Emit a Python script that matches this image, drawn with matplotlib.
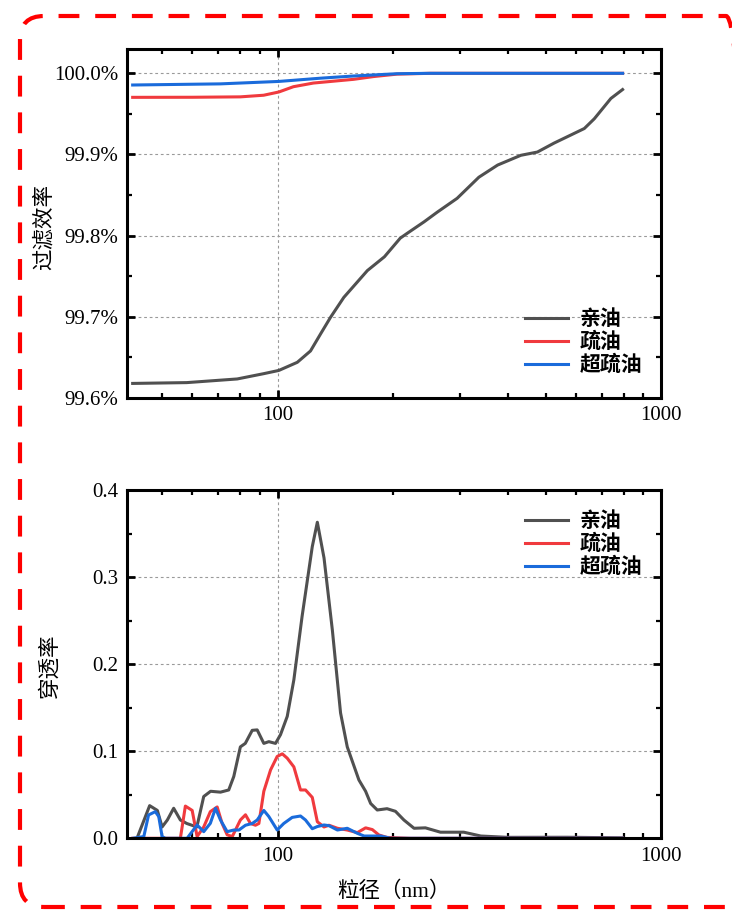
import matplotlib
matplotlib.use("Agg")
import matplotlib.pyplot as plt
from matplotlib.patches import FancyBboxPatch
from matplotlib.transforms import IdentityTransform
from matplotlib.ticker import FixedLocator, LogLocator, MultipleLocator, FuncFormatter, NullFormatter

plt.rcParams['font.family'] = ['Liberation Serif', 'Noto Sans CJK SC']

# === data: filtration efficiency (%) ===
eff_x_oleo = [41.9, 58, 78.5, 92, 100.8, 112.6, 121.9, 129.5, 137.5, 148.9, 171.5, 190, 209, 218,
              241, 261, 294, 335, 375, 431, 476, 526, 582, 631, 670, 740, 794]
eff_y_oleo = [99.618, 99.619, 99.6235, 99.630, 99.634, 99.644, 99.658, 99.679, 99.6995, 99.724,
              99.757, 99.774, 99.797, 99.803, 99.817, 99.829, 99.846, 99.872, 99.887, 99.899,
              99.903, 99.914, 99.924, 99.932, 99.944, 99.969, 99.980]
eff_x_phob = [41.9, 60, 80, 92, 100.8, 110, 124, 158, 178, 205, 250, 400, 794]
eff_y_phob = [99.9704, 99.9705, 99.971, 99.973, 99.977, 99.9835, 99.988, 99.9926, 99.996,
              99.999, 100.0, 100.0, 100.0]
eff_x_super = [41.9, 71, 100.8, 129.5, 158, 205, 250, 400, 794]
eff_y_super = [99.9856, 99.987, 99.990, 99.994, 99.9967, 99.9995, 100.0, 100.0, 100.0]

# === data: penetration ===
pen_x_oleo = [43.0, 46.4, 48.6, 50.0, 51.6, 53.6, 55.8, 58.0, 61.6, 64.2, 66.9, 71.0, 74.6, 76.9,
              80.0, 82.4, 85.9, 88.5, 92.1, 94.9, 98.8, 101.8, 106.0, 110.3, 115.9, 123.2, 127.0,
              132.2, 139, 146, 152, 163, 169.7, 174.9, 182, 193, 203, 213.6, 227, 243, 266, 306,
              339, 398, 570, 794]
pen_y_oleo = [0, 0.0375, 0.032, 0.013, 0.021, 0.0345, 0.021, 0.017, 0.013, 0.048, 0.054, 0.053,
              0.0555, 0.071, 0.105, 0.109, 0.124, 0.1245, 0.109, 0.111, 0.109, 0.119, 0.140, 0.182,
              0.255, 0.335, 0.363, 0.322, 0.239, 0.144, 0.105, 0.067, 0.054, 0.040, 0.0325, 0.034,
              0.031, 0.021, 0.0115, 0.012, 0.007, 0.007, 0.0026, 0.0011, 0.0012, 0.0005]
pen_x_phob = [41.9, 54.5, 55.8, 57.5, 59.9, 61.7, 64.2, 66.8, 69.6, 71.7, 73.9, 76.2, 80.0, 82.5,
              85.0, 87.6, 89.4, 92.1, 95.9, 99.8, 102.9, 106, 110.3, 114.8, 118.3, 123.2, 127,
              132.2, 136.2, 143.3, 152, 161.5, 169.7, 176.7, 183.8, 193, 222, 794]
pen_y_phob = [0, 0, 0, 0.037, 0.032, 0.002, 0.013, 0.0306, 0.036, 0.017, 0.004, 0.002, 0.021,
              0.027, 0.017, 0.015, 0.017, 0.054, 0.0785, 0.094, 0.097, 0.092, 0.082, 0.0555,
              0.0555, 0.047, 0.019, 0.013, 0.015, 0.0115, 0.0095, 0.0065, 0.012, 0.010, 0.0038,
              0.001, 0, 0]
pen_x_super = [41.9, 44.8, 46.1, 48.0, 49.0, 50.0, 51.0, 58.1, 61.7, 64.2, 66.8, 68.9, 71.0, 73.9,
               76.9, 79.3, 82.5, 85.9, 88.5, 92.1, 94.9, 99.8, 103.8, 109.2, 114.8, 118.3, 123.2,
               127, 132.2, 136.2, 143.3, 152, 161.5, 168.2, 185.8, 197.3, 794]
pen_y_super = [0, 0.002, 0.0268, 0.0306, 0.025, 0.002, 0, 0, 0.0153, 0.0076, 0.0172, 0.0345,
               0.021, 0.0076, 0.0095, 0.0095, 0.015, 0.017, 0.021, 0.032, 0.025, 0.0095, 0.017,
               0.024, 0.0256, 0.021, 0.011, 0.0135, 0.0153, 0.0145, 0.0095, 0.0115, 0.0057,
               0.0026, 0.0026, 0, 0]

labels = ['亲油', '疏油', '超疏油']
colors = ['#505050', '#F03A3E', '#1A6BDB']

fig = plt.figure(figsize=(7.32, 9.10), dpi=100)
ax1 = fig.add_axes([0.1735, 0.5626, 0.7295, 0.3836])
ax2 = fig.add_axes([0.1735, 0.0788, 0.7295, 0.3827])

legend_font = {'family': 'Noto Sans CJK SC', 'weight': 'bold', 'size': 15}

lw = 2.2
for ax, series in [(ax1, [(eff_x_oleo, eff_y_oleo), (eff_x_phob, eff_y_phob), (eff_x_super, eff_y_super)]),
                   (ax2, [(pen_x_oleo, pen_y_oleo), (pen_x_phob, pen_y_phob), (pen_x_super, pen_y_super)])]:
    for (xs, ys), lab, c in zip(series, labels, colors):
        ax.plot(xs, ys, color=c, lw=lw, label=lab, solid_joinstyle='round')
    ax.set_xscale('log')
    ax.set_xlim(40.5, 1000)
    ax.xaxis.set_major_locator(FixedLocator([100, 1000]))
    ax.xaxis.set_minor_locator(LogLocator(base=10, subs=range(2, 10)))
    ax.xaxis.set_major_formatter(FuncFormatter(lambda v, p: f"{v:.0f}"))
    ax.xaxis.set_minor_formatter(NullFormatter())
    ax.tick_params(which='both', direction='in', top=True, right=True, labelsize=15, pad=6)
    ax.tick_params(which='major', length=6, width=2.0)
    ax.tick_params(which='minor', length=3.5, width=1.6)
    for s in ax.spines.values():
        s.set_linewidth(2.2)
    ax.grid(True, which='major', linestyle=(0, (2.5, 2.5)), color='#9a9a9a', lw=0.8)
    ax.set_axisbelow(True)

ax1.set_ylim(99.6, 100.03)
ax1.yaxis.set_major_locator(MultipleLocator(0.1))
ax1.yaxis.set_minor_locator(MultipleLocator(0.05))
ax1.yaxis.set_major_formatter(FuncFormatter(lambda v, p: f"{v:.1f}%"))
ax1.set_ylabel('过滤效率', fontsize=15.5)
ax1.yaxis.set_label_coords(-0.135, 0.49)
ax1.legend(loc='lower right', bbox_to_anchor=(1.0, 0.012), frameon=False, handlelength=2.05,
           handletextpad=0.55, labelspacing=0.1, prop=legend_font)

ax2.set_ylim(0, 0.4)
ax2.yaxis.set_major_locator(MultipleLocator(0.1))
ax2.yaxis.set_minor_locator(MultipleLocator(0.05))
ax2.yaxis.set_major_formatter(FuncFormatter(lambda v, p: f"{v:.1f}"))
ax2.set_ylabel('穿透率', fontsize=15.5)
ax2.yaxis.set_label_coords(-0.125, 0.495)
ax2.set_xlabel('粒径（nm）', fontsize=15.5)
ax2.xaxis.set_label_coords(0.5, -0.125)
ax2.legend(loc='upper right', bbox_to_anchor=(1.0, 0.997), frameon=False, handlelength=2.05,
           handletextpad=0.55, labelspacing=0.1, prop=legend_font)

# red dashed rounded frame (pixel coordinates)
frame = FancyBboxPatch((20, 3), 730, 891, boxstyle="round,pad=0,rounding_size=24",
                       transform=IdentityTransform(), fill=False, edgecolor='#FF0000',
                       lw=3, linestyle=(0, (5, 3.8)), clip_on=False)
fig.add_artist(frame)

fig.savefig('out.png', dpi=100)
